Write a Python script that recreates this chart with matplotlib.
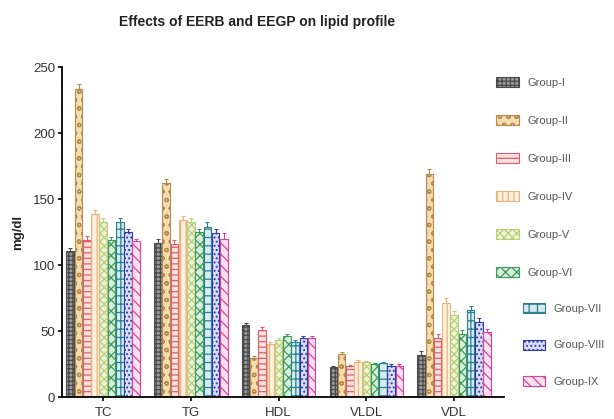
import numpy as np
import matplotlib
matplotlib.use("Agg")
import matplotlib.pyplot as plt
from matplotlib.patches import Patch

# data
params = ["TC", "TG", "HDL", "VLDL", "VDL"]
groups = ["Group-I", "Group-II", "Group-III", "Group-IV", "Group-V",
          "Group-VI", "Group-VII", "Group-VIII", "Group-IX"]

group_1 = [111, 117, 55, 23, 32]
group_2 = [233, 162, 30, 33, 169]
group_3 = [119, 116, 51, 23.5, 45]
group_4 = [139, 134, 40, 27, 71]
group_5 = [133, 133, 43, 26.5, 62]
group_6 = [119, 125, 46, 25, 48]
group_7 = [133, 129, 42, 26, 66]
group_8 = [125, 124, 45, 24, 57]
group_9 = [118, 120, 45, 24, 49]

err_1 = [2, 3, 1.5, 1, 3]
err_2 = [4, 3, 1.5, 1, 4]
err_3 = [3, 3, 2, 1, 3]
err_4 = [3, 3, 1.5, 1, 4]
err_5 = [3, 3, 1.5, 1, 3]
err_6 = [2, 2, 1.5, 1, 3]
err_7 = [3, 4, 1.5, 1, 3]
err_8 = [2, 3, 1.5, 1, 3]
err_9 = [2, 4, 1.5, 1, 3]

values = [group_1, group_2, group_3, group_4, group_5,
          group_6, group_7, group_8, group_9]
errors = [err_1, err_2, err_3, err_4, err_5, err_6, err_7, err_8, err_9]

edge_colors = ["#4a4a4a", "#b58a4a", "#d9606a", "#efb27a", "#b9cc78",
               "#3e9a5a", "#2a7f8e", "#2e3aa8", "#d8449a"]
face_colors = ["#9a9a9a", "#f3dcb0", "#fbe0e0", "#fdf0e0", "#eef4d8",
               "#d8eedd", "#d6ecef", "#d8dcf6", "#fbe0ef"]
hatches = ["++++", "oo", "---", "|||", "xxxx", "xxx", "++", "....", "\\\\\\"]

plt.rcParams["font.family"] = ["Liberation Sans", "DejaVu Sans"]
plt.rcParams["hatch.linewidth"] = 0.9

fig = plt.figure(figsize=(6.14, 4.19), dpi=100)
ax = fig.add_axes([0.101, 0.052, 0.72, 0.788])

x = np.arange(len(params))
w = 0.094
for i in range(len(groups)):
    pos = x + (i - 4) * w
    ax.bar(pos, values[i], w * 0.92, color=face_colors[i],
           edgecolor=edge_colors[i], hatch=hatches[i], linewidth=0.8,
           label=groups[i])
    ax.errorbar(pos, values[i], yerr=[np.zeros(5), errors[i]], fmt="none",
                ecolor=edge_colors[i], elinewidth=0.8, capsize=1.5,
                capthick=0.8)

ax.set_xlim(-0.47, 4.57)
ax.set_ylim(0, 250)
ax.set_yticks([0, 50, 100, 150, 200, 250])
ax.set_xticks(x)
ax.set_xticklabels(params)
ax.tick_params(axis="both", labelsize=9.5, width=1.2, length=3,
               labelcolor="#333333")
ax.tick_params(axis="x", pad=4)
ax.tick_params(axis="y", pad=2)
for s in ["top", "right"]:
    ax.spines[s].set_visible(False)
for s in ["left", "bottom"]:
    ax.spines[s].set_linewidth(1.3)
ax.set_ylabel("mg/dl", fontsize=9.5, fontweight="bold", labelpad=6,
              color="#222222")

fig.text(0.419, 0.947, "Effects of EERB and EEGP on lipid profile",
         ha="center", va="center", fontsize=10, fontweight="bold",
         color="#222222")

handles = [Patch(facecolor=face_colors[i], edgecolor=edge_colors[i],
                 hatch=hatches[i], linewidth=0.8) for i in range(9)]

# two legends: the last three entries sit a little further right
fig.legend(handles[:6], groups[:6], loc="upper left",
           bbox_to_anchor=(0.792, 0.839), frameon=False, fontsize=8,
           labelspacing=2.45, handlelength=2.0, handleheight=1.0,
           handletextpad=0.8, labelcolor="#555555")
fig.legend(handles[6:], groups[6:], loc="upper left",
           bbox_to_anchor=(0.835, 0.3), frameon=False, fontsize=8,
           labelspacing=2.3, handlelength=2.0, handleheight=1.0,
           handletextpad=0.8, labelcolor="#555555")

fig.savefig("out.png", dpi=100)
